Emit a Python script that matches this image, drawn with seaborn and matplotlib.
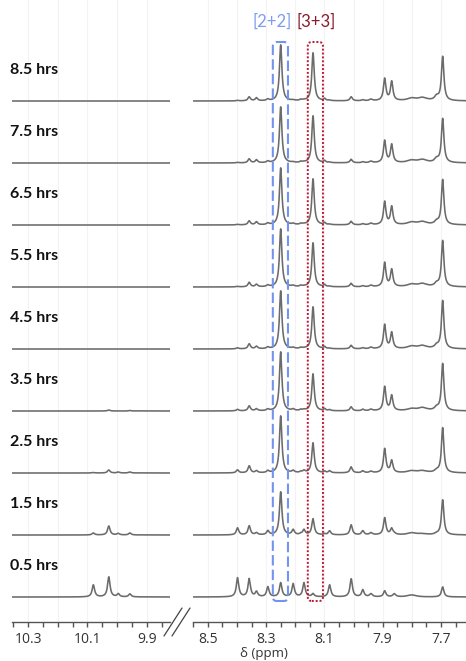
import numpy as np
import pandas as pd
import matplotlib
matplotlib.use("Agg")
import matplotlib.pyplot as plt
import seaborn as sns
from matplotlib.patches import FancyBboxPatch
from matplotlib.transforms import IdentityTransform
from matplotlib.lines import Line2D
from matplotlib.ticker import MultipleLocator, FuncFormatter

# ---------------- data ----------------
times = ["0.5 hrs", "1.5 hrs", "2.5 hrs", "3.5 hrs", "4.5 hrs",
         "5.5 hrs", "6.5 hrs", "7.5 hrs", "8.5 hrs"]

# right panel peaks (ppm), half-widths (ppm) and heights per time (0.5 -> 8.5 hrs)
right_ppm = [8.398, 8.358, 8.333, 8.294, 8.250, 8.207, 8.181, 8.170, 8.139,
             8.099, 8.082, 8.008, 7.968, 7.940, 7.893, 7.869, 7.860, 7.800,
             7.763, 7.715, 7.694]
right_hwhm = [0.005, 0.005, 0.005, 0.005, 0.005, 0.005, 0.004, 0.005, 0.005,
              0.004, 0.005, 0.005, 0.005, 0.006, 0.005, 0.005, 0.006, 0.018,
              0.018, 0.008, 0.005]
right_heights = [
    [19, 7, 3, 1.5, 1, 0.5, 0.5, 0.5, 0.5],      # 8.398
    [18, 9, 7, 5, 5, 4.5, 4, 4, 4],              # 8.358
    [5, 2, 2, 2, 2.5, 2.5, 3, 3, 3],             # 8.333
    [10, 4, 2, 1.5, 1.5, 1.5, 1.5, 1.5, 1.5],    # 8.294
    [14, 43, 57, 59, 58, 58, 57, 56, 56],        # 8.250  [2+2]
    [13, 5, 2, 1.5, 1, 1, 1, 0.5, 0.5],          # 8.207
    [0, 1, 1, 1, 1, 1, 1, 1, 1],                 # 8.181
    [14, 5, 2, 1, 0.5, 0.5, 0.5, 0.5, 0.5],      # 8.170
    [3, 16, 30, 37, 42, 44, 46, 47, 48],         # 8.139  [3+3]
    [0, 1, 1.5, 2, 2, 2, 2, 2, 2],               # 8.099
    [12, 4, 2, 1, 0.5, 0.5, 0.5, 0.5, 0.5],      # 8.082
    [18, 10, 6, 4, 3.5, 3.5, 3.5, 3.5, 4],       # 8.008
    [7, 4, 2, 1.5, 1, 1, 1, 1, 1],               # 7.968
    [3, 2, 1.5, 1.5, 1.5, 1.5, 1.5, 1.5, 1.5],   # 7.940
    [6, 17, 24, 24, 24, 24, 23, 22, 22],         # 7.893
    [0, 6, 12, 15, 16, 17, 18, 18, 19],          # 7.869
    [3, 1, 0, 0, 0, 0, 0, 0, 0],                 # 7.860
    [2, 2, 2, 2, 2.5, 2.5, 2.5, 2.5, 2.5],       # 7.800 (broad)
    [0, 1, 2, 3, 3, 3, 3, 3, 3],                 # 7.763 (broad)
    [0, 1, 2, 3, 3, 3, 3, 3.5, 4],               # 7.715
    [10, 35, 45, 47, 48, 46, 45, 44, 44],        # 7.694
]

# left panel (aldehyde region)
left_ppm = [10.080, 10.028, 9.996, 9.957]
left_hwhm = [0.005, 0.005, 0.005, 0.005]
left_heights = [
    [12, 2, 0.5, 0, 0, 0, 0, 0, 0],
    [20, 9, 3, 1, 0, 0, 0, 0, 0],
    [3, 1.5, 1, 0, 0, 0, 0, 0, 0],
    [3, 2, 1, 0.5, 0, 0, 0, 0, 0],
]

box_labels = ["[2+2]", "[3+3]"]
box_centers = [8.251, 8.131]

# ---------------- style ----------------
sns.set_style("white")
plt.rcParams["font.family"] = ["Open Sans", "DejaVu Sans"]

W, H = 466, 661
fig = plt.figure(figsize=(W / 100, H / 100), dpi=100)
axL = fig.add_axes([12 / W, 39 / H, 158 / W, 622 / H])
axR = fig.add_axes([193 / W, 39 / H, 273 / W, 622 / H])

xlimL = (10.354, 9.822)
xlimR = (8.551, 7.614)
step = 62.0
base0 = 25.0
line_col = "#6b6b6b"


def spectrum(x, ppm, hw, heights, k):
    y = np.zeros_like(x)
    for p, w, h in zip(ppm, hw, heights):
        y += h[k] * w ** 2 / ((x - p) ** 2 + w ** 2)
    return y


for ax, lim, ppm, hw, hts in [(axL, xlimL, left_ppm, left_hwhm, left_heights),
                              (axR, xlimR, right_ppm, right_hwhm, right_heights)]:
    x = np.linspace(lim[1], lim[0], 2500)
    for k, t in enumerate(times):
        y = base0 + step * k + spectrum(x, ppm, hw, hts, k)
        df = pd.DataFrame({"ppm": x, "y": y})
        sns.lineplot(data=df, x="ppm", y="y", ax=ax, color=line_col,
                     lw=1.15, estimator=None, sort=False)
    ax.set_xlim(*lim)
    ax.set_ylim(0, 622)
    ax.set_xlabel("")
    ax.set_ylabel("")
    ax.set_yticks([])
    for s in ["top", "left", "right"]:
        ax.spines[s].set_visible(False)
    ax.spines["bottom"].set_color("#555555")
    ax.spines["bottom"].set_linewidth(1.0)
    ax.xaxis.set_major_locator(MultipleLocator(0.1))
    ax.xaxis.set_minor_locator(MultipleLocator(0.05))
    ax.xaxis.set_major_formatter(FuncFormatter(
        lambda v, pos: f"{v:.1f}" if int(round(v * 10)) % 2 == 1 else ""))
    ax.tick_params(axis="x", which="both", direction="out", length=3.5,
                   width=1.0, color="#555555", labelsize=10,
                   labelcolor="#333333", pad=4, bottom=True)
    ax.grid(axis="x", which="major", color="#f3f3f3", lw=0.8)
    ax.set_axisbelow(True)
    ax.patch.set_alpha(0)

# x-axis title, placed under the right panel like the reference
fig.text(264 / W, 1 / H, "δ (ppm)", fontsize=9.5, color="#333333",
         ha="center", va="bottom")

# time labels
for k, t in enumerate(times):
    ydisp = 39 + base0 + step * k + 31
    fig.text(10 / W, ydisp / H, t, fontsize=11.5, fontweight="bold",
             family=["Lato", "DejaVu Sans"], color="#111111",
             ha="left", va="center")

# highlight boxes around [2+2] and [3+3] signals
box_styles = [dict(ec="#7294f0", ls=(0, (5, 2)), lw=1.5),
              dict(ec="#c01530", ls=(0, (1, 1)), lw=1.4)]
text_cols = ["#7f9cf0", "#8e1b2c"]
text_dx = [-8, 1]
halfw = 0.026
y_bot, y_top = base0 - 4, base0 + step * 8 + 59
for lab, c, st, tc, dx in zip(box_labels, box_centers, box_styles, text_cols, text_dx):
    x0, y0 = axR.transData.transform((c + halfw, y_bot))
    x1, y1 = axR.transData.transform((c - halfw, y_top))
    fig.add_artist(FancyBboxPatch((x0, y0), x1 - x0, y1 - y0,
                                  boxstyle="round,pad=0,rounding_size=4",
                                  transform=IdentityTransform(), fc="none",
                                  clip_on=False, **st))
    fig.text(((x0 + x1) / 2 + dx) / W, (H - 22) / H, lab, fontsize=12,
             family=["Lato", "DejaVu Sans"], color=tc, ha="center", va="center")

# axis break marks
for xa, xb in [(164, 182), (172, 190)]:
    fig.add_artist(Line2D([xa, xb], [H - 636, H - 608],
                          transform=IdentityTransform(), color="#444444", lw=0.9))

fig.savefig("out.png", dpi=100)
